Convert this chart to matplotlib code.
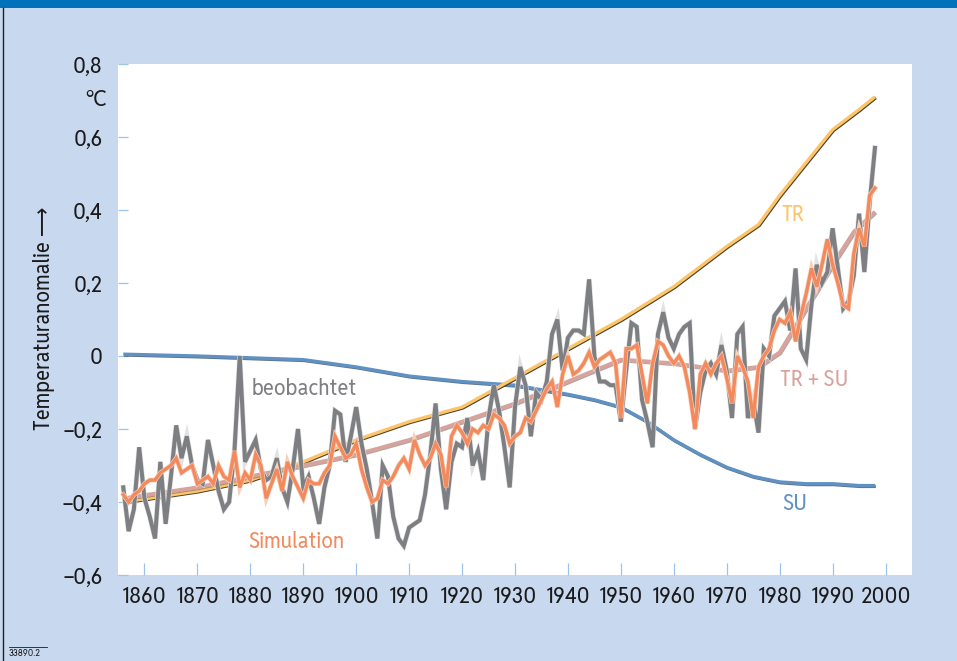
#!/usr/bin/env python3
"""
Temperaturanomalie 1856-1998: beobachtet vs. Simulation, plus die Antriebs-Anteile
TR (Treibhausgase), SU (Sulfataerosole) und TR + SU.

USAGE:  python plot.py   -> out.png (957x661)
"""

import matplotlib
matplotlib.use("Agg")
import matplotlib.pyplot as plt
import matplotlib.patheffects as pe
from matplotlib import font_manager as fm
from matplotlib.lines import Line2D

YEARS = list(range(1856, 1999))

OBSERVED = [
    -0.36, -0.48, -0.42, -0.25, -0.39, -0.44, -0.50, -0.29, -0.46, -0.33,   # 1856-1865
    -0.19, -0.28, -0.22, -0.30, -0.34, -0.35, -0.23, -0.30, -0.37, -0.42,   # 1866-1875
    -0.40, -0.26, 0.00, -0.29, -0.26, -0.23, -0.31, -0.34, -0.33, -0.28,    # 1876-1885
    -0.36, -0.40, -0.31, -0.20, -0.36, -0.33, -0.39, -0.46, -0.36, -0.30,   # 1886-1895
    -0.15, -0.16, -0.29, -0.22, -0.14, -0.24, -0.31, -0.40, -0.50, -0.30,   # 1896-1905
    -0.33, -0.44, -0.50, -0.52, -0.47, -0.46, -0.45, -0.38, -0.27, -0.13,   # 1906-1915
    -0.31, -0.42, -0.29, -0.24, -0.25, -0.17, -0.30, -0.26, -0.34, -0.17,   # 1916-1925
    -0.08, -0.15, -0.25, -0.36, -0.14, -0.03, -0.08, -0.22, -0.10, -0.12,   # 1926-1935
    -0.07, 0.06, 0.10, -0.04, 0.05, 0.07, 0.07, 0.06, 0.21, 0.00,           # 1936-1945
    -0.07, -0.07, -0.08, -0.08, -0.18, -0.04, 0.09, 0.08, -0.12, -0.18,     # 1946-1955
    -0.25, 0.06, 0.12, 0.05, 0.02, 0.06, 0.08, 0.09, -0.20, -0.10,          # 1956-1965
    -0.04, -0.02, -0.05, 0.03, -0.04, -0.17, 0.06, 0.08, -0.17, -0.12,      # 1966-1975
    -0.21, 0.02, 0.00, 0.11, 0.13, 0.15, 0.07, 0.24, 0.02, -0.01,           # 1976-1985
    0.14, 0.25, 0.20, 0.23, 0.35, 0.24, 0.13, 0.15, 0.22, 0.39,             # 1986-1995
    0.23, 0.42, 0.57,                                                       # 1996-1998
]

SIMULATION = [
    -0.38, -0.40, -0.38, -0.37, -0.35, -0.34, -0.34, -0.32, -0.31, -0.30,   # 1856-1865
    -0.28, -0.32, -0.31, -0.30, -0.35, -0.34, -0.33, -0.35, -0.30, -0.33,   # 1866-1875
    -0.34, -0.26, -0.36, -0.32, -0.34, -0.27, -0.30, -0.39, -0.35, -0.31,   # 1876-1885
    -0.37, -0.29, -0.33, -0.36, -0.39, -0.34, -0.35, -0.35, -0.32, -0.30,   # 1886-1895
    -0.22, -0.25, -0.28, -0.27, -0.24, -0.31, -0.36, -0.40, -0.39, -0.34,   # 1896-1905
    -0.35, -0.33, -0.30, -0.28, -0.31, -0.23, -0.27, -0.30, -0.28, -0.24,   # 1906-1915
    -0.27, -0.36, -0.22, -0.19, -0.21, -0.24, -0.20, -0.21, -0.19, -0.20,   # 1916-1925
    -0.16, -0.17, -0.19, -0.24, -0.22, -0.21, -0.17, -0.18, -0.15, -0.12,   # 1926-1935
    -0.09, -0.07, -0.14, -0.05, 0.00, -0.05, -0.04, -0.02, 0.01, -0.03,     # 1936-1945
    -0.01, 0.00, 0.01, -0.02, -0.17, 0.02, 0.02, 0.03, -0.05, -0.13,        # 1946-1955
    -0.02, 0.04, 0.03, 0.00, -0.02, 0.00, -0.03, -0.10, -0.20, -0.05,       # 1956-1965
    -0.02, -0.05, -0.02, 0.00, -0.06, -0.13, 0.00, -0.03, -0.07, -0.17,     # 1966-1975
    -0.03, 0.00, 0.02, 0.07, 0.10, 0.09, 0.12, 0.04, 0.11, 0.17,            # 1976-1985
    0.24, 0.19, 0.25, 0.32, 0.25, 0.20, 0.14, 0.13, 0.28, 0.35,             # 1986-1995
    0.30, 0.44, 0.46,                                                       # 1996-1998
]

# smooth model components, read every ~5-10 years
TR_YEARS = [1856, 1870, 1880, 1890, 1900, 1910, 1920, 1930, 1940, 1950,
            1960, 1970, 1976, 1980, 1985, 1990, 1995, 1998]
TR = [-0.40, -0.37, -0.34, -0.29, -0.23, -0.18, -0.14, -0.06, 0.02, 0.10,
      0.19, 0.30, 0.36, 0.44, 0.53, 0.62, 0.675, 0.71]

SU_YEARS = [1856, 1870, 1880, 1890, 1900, 1910, 1920, 1930, 1940, 1945,
            1950, 1955, 1960, 1965, 1970, 1975, 1980, 1985, 1990, 1995, 1998]
SU = [0.005, 0.0, -0.005, -0.01, -0.03, -0.055, -0.07, -0.08, -0.105, -0.12,
      -0.14, -0.18, -0.23, -0.27, -0.305, -0.33, -0.345, -0.35, -0.35, -0.355, -0.355]

TRSU_YEARS = [1856, 1870, 1880, 1890, 1900, 1910, 1920, 1930, 1940, 1945,
              1950, 1960, 1970, 1976, 1980, 1985, 1990, 1994, 1998]
TRSU = [-0.39, -0.36, -0.33, -0.30, -0.27, -0.23, -0.18, -0.13, -0.07, -0.04,
        -0.01, -0.02, -0.04, -0.03, 0.01, 0.13, 0.25, 0.34, 0.395]

Y_TICKS = [-0.6, -0.4, -0.2, 0.0, 0.2, 0.4, 0.6, 0.8]
Y_LABELS = ["\u22120,6", "\u22120,4", "\u22120,2", "0", "0,2", "0,4", "0,6", "0,8"]
X_TICKS = list(range(1860, 2001, 10))

BG = "#c8d8ee"
TICK_BLUE = "#9dc3e6"
C_OBS, C_SIM = "#7e7f82", "#f48a5c"
C_TR, C_SU, C_TRSU = "#fdc56b", "#5f92c3", "#d7a39c"


def pick_font():
    """The original uses a condensed sans; take the narrowest one that is installed."""
    fonts = {(f.name, f.stretch) for f in fm.fontManager.ttflist}
    names = {n for n, _ in fonts}
    if "Liberation Sans Narrow" in names:
        return ["Liberation Sans Narrow", "DejaVu Sans"], "normal", 16.5
    for n, s in fonts:
        if s in ("condensed", "semi-condensed", 75, 87.5) or "Condensed" in n:
            return [n, "DejaVu Sans"], s if isinstance(s, str) else "condensed", 16.5
    return ["Roboto", "DejaVu Sans"], "normal", 13.5


def shadow(dx=0.6, dy=-0.6, color="#2b2b2b", alpha=0.8):
    return [pe.SimpleLineShadow(offset=(dx, dy), shadow_color=color, alpha=alpha), pe.Normal()]


def main():
    family, stretch, fs = pick_font()
    plt.rcParams["font.family"] = family
    plt.rcParams["font.stretch"] = stretch
    fig = plt.figure(figsize=(9.57, 6.61), dpi=100, facecolor=BG)
    ax = fig.add_axes([118 / 957, 86 / 661, 794 / 957, 511 / 661])
    ax.set_facecolor("white")

    ax.plot(SU_YEARS, SU, color=C_SU, lw=2.4, solid_capstyle="butt",
            path_effects=shadow(color="#1c3552", alpha=0.7), zorder=2)
    ax.plot(TR_YEARS, TR, color=C_TR, lw=2.4, solid_capstyle="butt",
            path_effects=shadow(color="#3a2c10", alpha=0.9), zorder=2)
    ax.plot(TRSU_YEARS, TRSU, color=C_TRSU, lw=2.8, solid_capstyle="butt",
            path_effects=shadow(color="#6b4a45", alpha=0.5), zorder=2)

    ax.plot(YEARS, OBSERVED, color=C_OBS, lw=2.9, solid_joinstyle="miter",
            path_effects=[pe.Stroke(linewidth=3.8, foreground="#e2e2e2"), pe.Normal()], zorder=3)
    ax.plot(YEARS, SIMULATION, color=C_SIM, lw=2.4, solid_joinstyle="miter",
            path_effects=[pe.Stroke(linewidth=3.4, foreground="#f7d0bd"), pe.Normal()], zorder=4)

    ax.set_xlim(1855, 2005)
    ax.set_ylim(-0.6, 0.8)
    for s in ax.spines.values():
        s.set_visible(False)
    ax.set_yticks(Y_TICKS)
    ax.set_yticklabels(Y_LABELS)
    ax.set_xticks(X_TICKS)
    ax.set_xticklabels([str(y) for y in X_TICKS])
    ax.tick_params(axis="y", direction="in", length=7.5, width=0.9, color=TICK_BLUE,
                   pad=11, labelsize=fs, labelcolor="#1a1a1a")
    ax.tick_params(axis="x", direction="in", length=8.5, width=0.9, color=TICK_BLUE,
                   pad=8, labelsize=fs, labelcolor="#1a1a1a")

    # series labels
    lab = dict(fontsize=fs, ha="left", va="center")
    ax.text(1880.2, -0.09, "beobachtet", color=C_OBS, **lab)
    ax.text(1879.6, -0.51, "Simulation", color=C_SIM, **lab)
    ax.text(1980.4, 0.385, "TR", color=C_TR, **lab)
    ax.text(1980.0, -0.065, "TR + SU", color=C_TRSU, **lab)
    ax.text(1980.4, -0.405, "SU", color=C_SU, **lab)

    # unit + axis title
    fig.text(107 / 957, 1 - 100 / 661, "\u00b0C", ha="right", va="center", fontsize=fs, color="#1a1a1a")
    fig.text(44 / 957, 1 - 318 / 661, "Temperaturanomalie \u27f6", rotation=90,
             ha="center", va="center", fontsize=fs, color="#1a1a1a")

    # frame decorations: top bar, left rule, figure id
    fig.add_artist(plt.Rectangle((0, 1 - 8 / 661), 1, 8 / 661, transform=fig.transFigure,
                                 color="#0072bc", lw=0))
    fig.add_artist(Line2D([3 / 957, 3 / 957], [0, 1 - 8 / 661], transform=fig.transFigure,
                          color="#222222", lw=1.0))
    fig.text(9 / 957, 1 - 654 / 661, "33890.2", ha="left", va="center", fontsize=7, color="#1a1a1a")
    fig.add_artist(Line2D([9 / 957, 47 / 957], [1 - 647 / 661] * 2, transform=fig.transFigure,
                          color="#1a1a1a", lw=0.6))

    fig.savefig("out.png", dpi=100, facecolor=BG)


if __name__ == "__main__":
    main()
